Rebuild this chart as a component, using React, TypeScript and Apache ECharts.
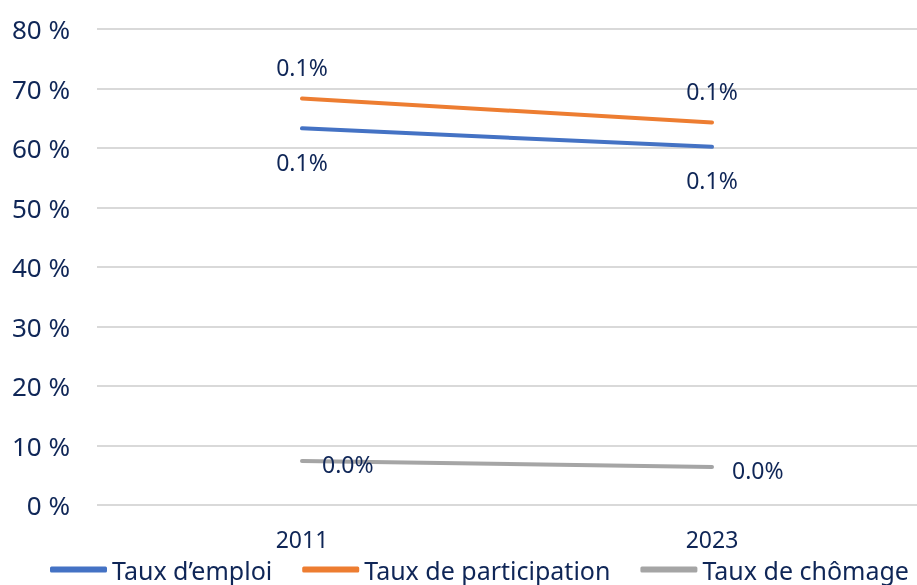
import React, { useEffect, useRef } from "react";
import * as echarts from "echarts";

const categories = ["2011", "2023"];
const emploi = [63.3, 60.2];
const participation = [68.3, 64.3];
const chomage = [7.4, 6.4];
const emploiLabels = ["0.1%", "0.1%"];
const participationLabels = ["0.1%", "0.1%"];
const chomageLabels = ["0.0%", "0.0%"];
const yTicks = { min: 0, max: 80, interval: 10 };

const TEXT = "#0f2657";
const FONT = "Noto Sans";

export default function App() {
  const ref = useRef<HTMLDivElement>(null);
  useEffect(() => {
    const chart = echarts.init(ref.current!, undefined, { renderer: "svg" });
    const labelStyle = { color: TEXT, fontFamily: FONT, fontSize: 23 };
    const common = {
      type: "line",
      symbol: "circle",
      symbolSize: 0.01,
      showSymbol: true,
      lineStyle: { width: 4, cap: "round" },
    };
    chart.setOption({
      animation: false,
      grid: { left: 97, right: -4, top: 29, bottom: 80 },
      legend: {
        left: 45,
        top: 552,
        width: 3000,
        itemWidth: 57,
        itemHeight: 6,
        itemGap: 30,
        icon: "roundRect",
        textStyle: { color: TEXT, fontFamily: FONT, fontSize: 25 },
        data: ["Taux d’emploi", "Taux de participation", "Taux de chômage"],
      },
      xAxis: {
        type: "category",
        data: categories,
        axisLine: { show: false },
        axisTick: { show: false },
        axisLabel: {
          color: TEXT,
          fontFamily: FONT,
          fontSize: 23,
          lineHeight: 18,
          margin: 25,
        },
      },
      yAxis: {
        type: "value",
        min: yTicks.min,
        max: yTicks.max,
        interval: yTicks.interval,
        axisLine: { show: false },
        axisTick: { show: false },
        splitLine: { lineStyle: { color: "#d9d9d9", width: 2 } },
        axisLabel: {
          color: TEXT,
          fontFamily: FONT,
          fontSize: 26,
          margin: 27,
          formatter: "{value} %",
        },
      },
      series: [
        {
          ...common,
          name: "Taux d’emploi",
          data: emploi,
          color: "#4472C4",
          label: {
            show: true,
            position: "bottom",
            distance: 22,
            ...labelStyle,
            formatter: (p: any) => emploiLabels[p.dataIndex],
          },
        },
        {
          ...common,
          name: "Taux de participation",
          data: participation,
          color: "#ED7D31",
          label: {
            show: true,
            position: "top",
            distance: 20,
            ...labelStyle,
            formatter: (p: any) => participationLabels[p.dataIndex],
          },
        },
        {
          ...common,
          name: "Taux de chômage",
          data: chomage,
          color: "#A5A5A5",
          label: {
            show: true,
            position: "right",
            distance: 20,
            offset: [0, 3],
            ...labelStyle,
            formatter: (p: any) => chomageLabels[p.dataIndex],
          },
        },
      ],
    });
    return () => chart.dispose();
  }, []);
  return (
    <div
      ref={ref}
      style={{ position: "fixed", left: 0, top: 0, width: 917, height: 585 }}
    />
  );
}
